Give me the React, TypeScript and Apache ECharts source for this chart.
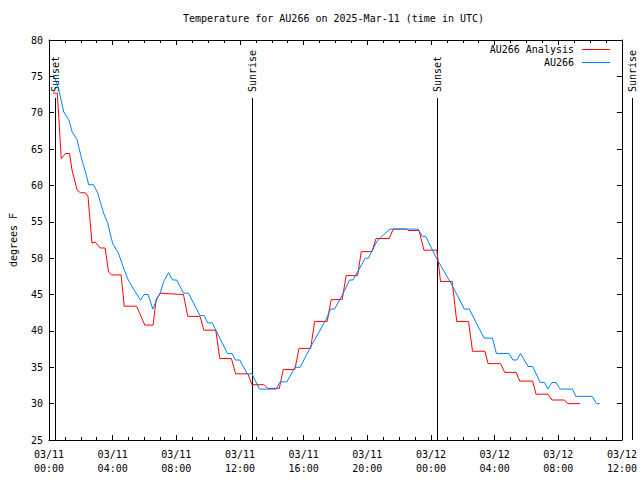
import React, { useEffect, useRef } from "react";
import * as echarts from "echarts";

// hours since 2025-03-11 00:00 UTC
const analysisTimes = [0.25, 0.52, 0.62, 0.77, 1.04, 1.29, 1.45, 1.76, 1.97, 2.29, 2.45, 2.7, 2.91, 3.22, 3.53, 3.74, 3.94, 4.53, 4.73, 5.5, 6.02, 6.54, 6.73, 6.99, 7.6, 8.45, 8.72, 9.49, 9.73, 10.48, 10.73, 11.46, 11.73, 12.5, 12.75, 13.5, 13.75, 14.47, 14.72, 15.45, 15.71, 16.44, 16.69, 17.48, 17.73, 18.42, 18.67, 19.39, 19.62, 20.29, 20.55, 21.38, 21.63, 22.47, 22.56, 23.25, 23.56, 24.37, 24.6, 25.33, 25.62, 26.36, 26.61, 27.39, 27.59, 28.38, 28.63, 29.35, 29.58, 30.39, 30.6, 31.35, 31.6, 32.39, 32.59, 33.36];
const analysisTemps = [72.7, 72.7, 69.2, 63.7, 64.4, 64.4, 62.1, 59.4, 59.0, 59.0, 58.5, 52.1, 52.2, 51.4, 51.4, 48.1, 47.7, 47.7, 43.4, 43.4, 40.8, 40.8, 44.3, 45.2, 45.1, 45.0, 42.0, 42.0, 40.1, 40.1, 36.2, 36.2, 34.1, 34.1, 32.6, 32.6, 32.1, 32.1, 34.7, 34.7, 37.6, 37.6, 41.3, 41.3, 44.3, 44.3, 47.6, 47.6, 50.9, 50.9, 52.7, 52.7, 54.0, 54.0, 53.8, 53.8, 51.1, 51.1, 46.8, 46.8, 41.3, 41.3, 37.2, 37.2, 35.5, 35.5, 34.3, 34.3, 33.1, 33.1, 31.3, 31.3, 30.5, 30.5, 30.0, 30.0];

const obsTimes = [0.31, 0.62, 0.93, 1.25, 1.45, 1.76, 2.07, 2.35, 2.49, 2.8, 3.07, 3.43, 3.69, 4.0, 4.36, 4.73, 4.98, 5.36, 5.75, 5.96, 6.23, 6.52, 6.81, 6.99, 7.21, 7.51, 7.77, 8.03, 8.45, 8.76, 9.49, 9.76, 9.97, 10.26, 10.53, 11.21, 11.5, 11.71, 11.98, 12.46, 12.75, 13.22, 14.26, 14.53, 14.95, 15.45, 15.78, 16.44, 16.96, 17.48, 17.69, 17.94, 18.42, 18.89, 19.1, 19.87, 20.07, 20.6, 21.01, 21.43, 23.19, 23.46, 23.67, 24.37, 25.27, 26.1, 26.41, 27.34, 27.86, 28.11, 28.9, 29.15, 29.4, 29.63, 30.1, 30.39, 30.87, 31.14, 31.35, 31.6, 31.85, 32.12, 32.89, 33.1, 34.13, 34.4, 34.61];
const obsTemps = [75.2, 73.1, 70.1, 69.0, 67.4, 66.3, 63.5, 61.4, 60.1, 60.1, 58.9, 56.2, 54.8, 52.0, 50.7, 48.4, 47.0, 45.6, 44.2, 45.0, 45.0, 43.0, 44.5, 45.2, 46.8, 48.0, 47.0, 47.0, 45.2, 45.2, 42.1, 42.1, 41.1, 41.1, 39.9, 36.9, 36.9, 36.0, 36.0, 34.1, 34.1, 32.0, 32.0, 33.0, 33.0, 35.0, 35.0, 37.8, 39.8, 41.9, 43.0, 43.0, 44.9, 47.0, 47.0, 50.0, 50.0, 52.3, 53.2, 54.0, 54.0, 53.0, 53.0, 49.9, 46.5, 43.0, 43.0, 39.0, 39.0, 36.9, 36.9, 36.0, 36.0, 36.9, 35.1, 35.1, 32.9, 32.9, 32.0, 32.9, 32.9, 32.0, 32.0, 31.0, 31.0, 30.0, 30.0];

const sunTimes = [0.37, 12.77, 24.35, 36.62];
const sunLabels = ["Sunset", "Sunrise", "Sunset", "Sunrise"];

const xTickLabels = ["03/11\n00:00", "03/11\n04:00", "03/11\n08:00", "03/11\n12:00", "03/11\n16:00", "03/11\n20:00", "03/12\n00:00", "03/12\n04:00", "03/12\n08:00", "03/12\n12:00"];

const FONT = '"DejaVu Sans Mono", monospace';

export default function App() {
  const ref = useRef<HTMLDivElement>(null);
  useEffect(() => {
    if (!ref.current) return;
    const chart = echarts.init(ref.current, null, { renderer: "svg" });
    const tickLine = { show: true, inside: true, length: 5, lineStyle: { color: "#000", width: 1 } };
    const minor = { show: true, splitNumber: 4, length: 3, lineStyle: { color: "#000", width: 1 } };
    const axisLine = { show: true, onZero: false, lineStyle: { color: "#000", width: 1 } };
    const xBase = { type: "value", min: 0, max: 36, interval: 4, splitLine: { show: false }, axisLine, axisTick: tickLine, minorTick: minor };
    const yBase = { type: "value", min: 25, max: 80, interval: 5, splitLine: { show: false }, axisLine, axisTick: tickLine };
    chart.setOption({
      animation: false,
      backgroundColor: "#fff",
      textStyle: { fontFamily: FONT, fontSize: 10, color: "#000" },
      title: {
        text: "Temperature for AU266 on 2025-Mar-11 (time in UTC)",
        left: 183,
        top: 13,
        padding: 0,
        textStyle: { fontFamily: FONT, fontSize: 10, fontWeight: "normal", color: "#000" },
      },
      legend: {
        orient: "vertical",
        right: 30,
        top: 43,
        padding: 0,
        itemGap: 0,
        itemWidth: 28,
        itemHeight: 1,
        icon: "rect",
        align: "right",
        data: ["AU266 Analysis", "AU266"],
        textStyle: { fontFamily: FONT, fontSize: 10, color: "#000", lineHeight: 13, padding: [0, 3, 0, 0] },
      },
      grid: { left: 46, right: 16, top: 40, bottom: 40, containLabel: false },
      xAxis: [
        {
          ...xBase,
          position: "bottom",
          axisLabel: {
            margin: 7,
            lineHeight: 14,
            fontFamily: FONT,
            fontSize: 10,
            color: "#000",
            showMinLabel: true,
            showMaxLabel: true,
            formatter: (v: number) => xTickLabels[Math.round(v / 4)] ?? "",
          },
        },
        { ...xBase, position: "top", axisLabel: { show: false } },
      ],
      yAxis: [
        {
          ...yBase,
          position: "left",
          name: "degrees F",
          nameLocation: "middle",
          nameGap: 31,
          nameTextStyle: { fontFamily: FONT, fontSize: 10, color: "#000" },
          axisLabel: { margin: 6, fontFamily: FONT, fontSize: 10, color: "#000" },
        },
        { ...yBase, position: "right", axisLabel: { show: false } },
      ],
      series: [
        {
          type: "custom",
          name: "sun",
          clip: false,
          silent: true,
          data: sunTimes.map((t, i) => [t, i]),
          renderItem: (params: any, api: any) => {
            const t = api.value(0);
            const idx = api.value(1);
            const x = Math.round(api.coord([t, 80])[0]) + 0.5;
            const top = api.coord([0, 80])[1];
            const bottom = api.coord([0, 25])[1];
            return {
              type: "group",
              children: [
                {
                  type: "line",
                  shape: { x1: x, y1: top + 58, x2: x, y2: bottom },
                  style: { stroke: "#000", lineWidth: 1 },
                },
                {
                  type: "text",
                  x: x,
                  y: top + 52,
                  rotation: Math.PI / 2,
                  style: {
                    text: sunLabels[idx],
                    fill: "#000",
                    font: `10px ${FONT}`,
                    align: "left",
                    verticalAlign: "middle",
                  },
                },
              ],
            };
          },
        },
        {
          type: "line",
          name: "AU266 Analysis",
          symbol: "none",
          data: analysisTimes.map((t, i) => [t, analysisTemps[i]]),
          lineStyle: { color: "#ff0000", width: 1 },
          itemStyle: { color: "#ff0000" },
        },
        {
          type: "line",
          name: "AU266",
          symbol: "none",
          data: obsTimes.map((t, i) => [t, obsTemps[i]]),
          lineStyle: { color: "#0080ff", width: 1 },
          itemStyle: { color: "#0080ff" },
        },
      ],
    });
    return () => chart.dispose();
  }, []);
  return <div ref={ref} style={{ position: "absolute", left: 0, top: 0, width: 640, height: 480 }} />;
}
